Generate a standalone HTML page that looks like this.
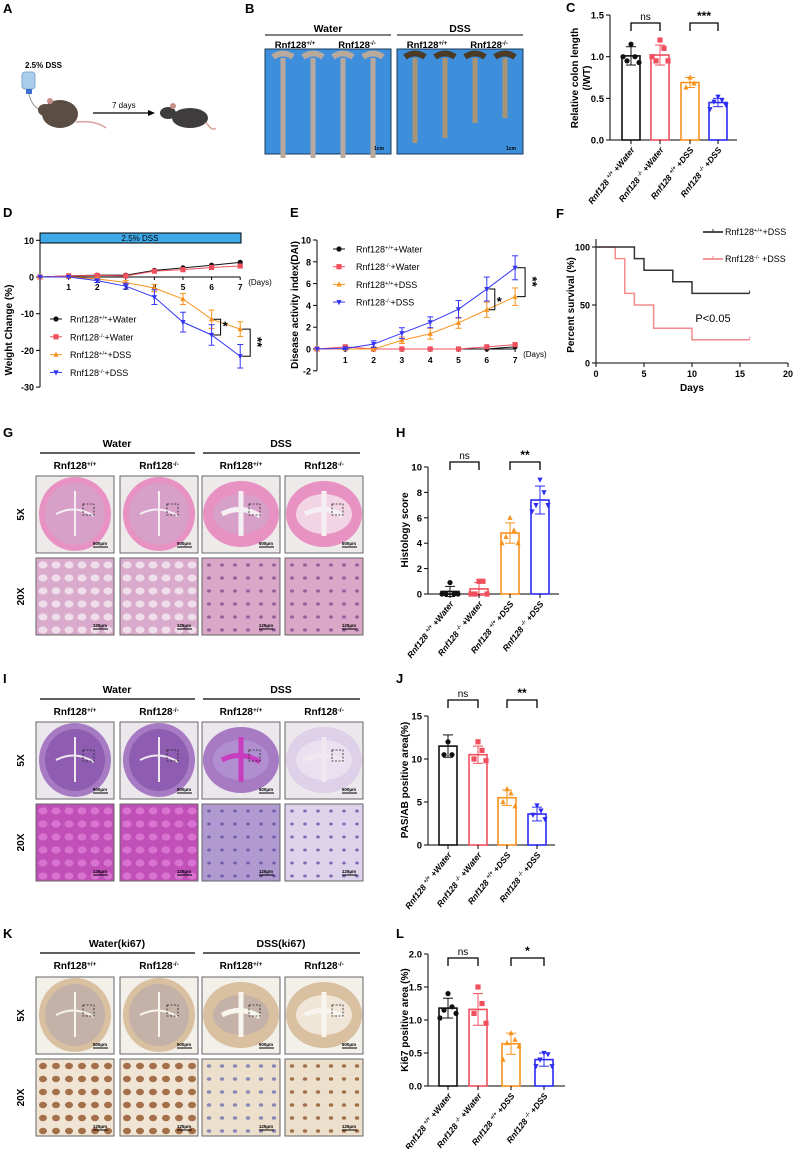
<!DOCTYPE html>
<html><head><meta charset="utf-8">
<style>
html,body{margin:0;padding:0;background:#fff;}
body{width:793px;height:1149px;overflow:hidden;font-family:"Liberation Sans",Arial,sans-serif;}
svg text{font-family:"Liberation Sans",Arial,sans-serif;}
</style></head>
<body>
<svg id="fig" width="793" height="1149" viewBox="0 0 793 1149" xmlns="http://www.w3.org/2000/svg"></svg>
<script>
// ---------- DATA ----------
const groups = ["+Water","+Water","+DSS","+DSS"];
const genos = ["+/+","-/-","+/+","-/-"];
const barColors = ["#111111","#f0505e","#f7931e","#2b2bf5"];

const cMeans = [1.01,1.02,0.69,0.45];
const cSds = [0.11,0.12,0.06,0.05];
const cDots = [[1.15,1.0,0.95,0.93,1.0],[1.2,1.1,0.95,0.95,1.0],[0.75,0.68,0.63],[0.52,0.48,0.46,0.42,0.37]];
const cTicks = [0,0.5,1.0,1.5];

const hMeans = [0.2,0.4,4.8,7.4];
const hSds = [0.4,0.5,0.8,1.1];
const hDots = [[0.9,0,0,0,0],[1,1,0,0,0],[6,5,4.5,4,4],[9,8,7,7,6.5]];
const hTicks = [0,2,4,6,8,10];

const jMeans = [11.5,10.5,5.5,3.6];
const jSds = [1.3,1.0,0.9,0.8];
const jDots = [[12,10.5,10.5],[12,11,10,9.8],[6.5,6,5,4.5],[4.6,4,3.5,3]];
const jTicks = [0,5,10,15];

const lMeans = [1.18,1.16,0.64,0.40];
const lSds = [0.15,0.24,0.16,0.10];
const lDots = [[1.4,1.2,1.15,1.1,1.03],[1.5,1.25,1.1,0.95],[0.8,0.7,0.65,0.6,0.4],[0.5,0.48,0.4,0.3,0.3]];
const lTicks = [0,0.5,1.0,1.5,2.0];

const days = [0,1,2,3,4,5,6,7];
const dWtWater = [0,0.3,0.5,0.5,1.8,2.5,3.2,4.0];
const dKoWater = [0,0.3,0.4,0.3,1.6,2.0,2.6,3.0];
const dWtDss = [0,0,-0.5,-1.5,-3,-6,-11.5,-14.2];
const dKoDss = [0,0,-1,-2.5,-5.5,-12.3,-15.8,-21.6];
const dWtDssErr = [0,0,0.3,0.5,1,1.5,2.5,2];
const dKoDssErr = [0,0,0.5,0.8,2,2.7,2.8,3.2];
const dTicks = [10,0,-10,-20,-30];

const eWtWater = [0,0,0,0,0,0,0,0.2];
const eKoWater = [0,0.2,0,0,0,0,0.2,0.4];
const eWtDss = [0,0,0,0.8,1.4,2.4,3.6,4.8];
const eKoDss = [0,0.05,0.45,1.45,2.45,3.65,5.5,7.45];
const eWtDssErr = [0,0,0,0.3,0.5,0.5,0.7,0.8];
const eKoDssErr = [0,0.1,0.3,0.5,0.5,0.8,1.1,1.1];
const eTicks = [-2,0,2,4,6,8,10];

const fWtTimes = [0,4,5,8,10,16];
const fWtSurv = [100,90,80,70,60,60];
const fKoTimes = [0,2,3,4,6,10,16];
const fKoSurv = [100,90,60,50,30,20,20];
const fXTicks = [0,5,10,15,20];
const fYTicks = [0,50,100];

// ---------- HELPERS ----------
const NS = "http://www.w3.org/2000/svg";
const svg = document.getElementById("fig");
function el(tag, attrs, name, parent){
  const e = document.createElementNS(NS, tag);
  for (const k in attrs) e.setAttribute(k, attrs[k]);
  
  
  (parent||svg).appendChild(e);
  return e;
}
function txt(x,y,s,size,name,extra){
  const a = Object.assign({x:x,y:y,'font-size':size,fill:'#000'}, extra||{});
  const t = el('text',a,name);
  t.textContent = s;
  return t;
}
function sup(t, base, supS, rest){
  t.textContent='';
  const a=document.createElementNS(NS,'tspan'); a.textContent=base; t.appendChild(a);
  const b=document.createElementNS(NS,'tspan'); b.setAttribute('baseline-shift','super'); b.setAttribute('font-size','0.65em'); b.textContent=supS; t.appendChild(b);
  if(rest){const c=document.createElementNS(NS,'tspan'); c.textContent=rest; t.appendChild(c);}
}
function line(x1,y1,x2,y2,name,stroke,w){
  return el('line',{x1:x1,y1:y1,x2:x2,y2:y2,stroke:stroke||'#000','stroke-width':w||1},name);
}
function marker(kind,x,y,color,name){
  const s=2.6;
  if(kind==='circle') return el('circle',{cx:x,cy:y,r:s,fill:color},name);
  if(kind==='square') return el('rect',{x:x-s,y:y-s,width:2*s,height:2*s,fill:color},name);
  if(kind==='tri') return el('polygon',{points:`${x},${y-s-0.5} ${x-s},${y+s-0.5} ${x+s},${y+s-0.5}`,fill:color},name);
  return el('polygon',{points:`${x},${y+s+0.5} ${x-s},${y-s+0.5} ${x+s},${y-s+0.5}`,fill:color},name);
}
function panelLabel(x,y,s){ txt(x,y,s,13,'panel-label-'+s.toLowerCase(),{'font-weight':'bold'}); }

// ---------- BAR CHART ----------
function barChart(p){
  const yv = v => p.y0 - v*p.ppu;
  const top = p.ticks[p.ticks.length-1];
  line(p.ax, p.y0, p.ax, yv(top), p.id+'-y-axis');
  line(p.ax, p.y0, p.xEnd, p.y0, p.id+'-x-axis');
  p.ticks.forEach(t=>{
    line(p.ax-4, yv(t), p.ax, yv(t), p.id+'-y-tick');
    txt(p.ax-6, yv(t)+3.5, p.fmt(t), 9.5, p.id+'-y-tick-label',{'text-anchor':'end','font-weight':'bold'});
  });
  p.means.forEach((m,i)=>{
    const cx=p.centers[i], col=barColors[i];
    el('rect',{x:cx-9,y:yv(m),width:18,height:p.y0-yv(m),fill:'#fff',stroke:col,'stroke-width':1.6},p.id+'-bar-'+(i+1));
    line(cx,yv(m+p.sds[i]),cx,yv(m-p.sds[i]),p.id+'-error-bar',col,1);
    line(cx-5,yv(m+p.sds[i]),cx+5,yv(m+p.sds[i]),p.id+'-error-cap',col,1);
    line(cx-5,yv(m-p.sds[i]),cx+5,yv(m-p.sds[i]),p.id+'-error-cap',col,1);
    line(cx,p.y0,cx,p.y0+4,p.id+'-x-tick');
    const kinds=['circle','square','tri','inv'];
    p.dots[i].forEach((d,j)=>{
      const off=(j%2===0?-1:1)*Math.ceil(j/2)*4;
      marker(kinds[i],cx+off,yv(d),col,p.id+'-data-point');
    });
    const t=txt(0,0,'',8.5,p.id+'-x-label',{'text-anchor':'end','font-weight':'bold','font-style':'italic',transform:`translate(${cx+4},${p.y0+10}) rotate(-52)`});
    sup(t,'Rnf128 ',genos[i],' '+groups[i]);
  });
  txt(0,0,p.ylabel[0],10,p.id+'-y-axis-title',{'text-anchor':'middle','font-weight':'bold',transform:`translate(${p.ylx},${p.ylcy}) rotate(-90)`});
  if(p.ylabel[1]) txt(0,0,p.ylabel[1],10,p.id+'-y-axis-title-2',{'text-anchor':'middle','font-weight':'bold',transform:`translate(${p.ylx+12},${p.ylcy}) rotate(-90)`});
  p.sig.forEach(s=>{
    const a=p.centers[s[0]], b=p.centers[s[1]];
    el('polyline',{points:`${a},${s[3]+8} ${a},${s[3]} ${b},${s[3]} ${b},${s[3]+8}`,fill:'none',stroke:'#000','stroke-width':1.3},p.id+'-sig-bracket');
    txt((a+b)/2,s[3]-3,s[2],s[2]==='ns'?10:12,p.id+'-sig-label',{'text-anchor':'middle','font-weight':s[2]==='ns'?'normal':'bold'});
  });
}

// ---------- PANEL A ----------
panelLabel(3,13,'A');
txt(25,68,'2.5% DSS',8,'dss-bottle-label',{'font-weight':'bold'});
el('rect',{x:22,y:72,width:13,height:17,rx:3,fill:'#a9cdea',stroke:'#7fa9cc'},'water-bottle');
el('rect',{x:26,y:89,width:6,height:5,fill:'#3f6fd1'},'bottle-cap');
el('path',{d:'M29 94 Q31 105 40 110',fill:'none',stroke:'#999','stroke-width':1},'bottle-tube');
el('ellipse',{cx:60,cy:114,rx:18,ry:14,fill:'#5b4d44'},'mouse-1-body');
el('ellipse',{cx:45,cy:110,rx:7,ry:6,fill:'#5b4d44'},'mouse-1-head');
el('circle',{cx:50,cy:101,r:3,fill:'#c9908a'},'mouse-1-ear');
el('path',{d:'M76 122 Q95 120 106 128',fill:'none',stroke:'#d9a29a','stroke-width':1.5},'mouse-1-tail');
line(93,113,150,113,'arrow-line','#000',1.3);
el('polygon',{points:'155,113 148,110 148,116',fill:'#000'},'arrow-head');
txt(112,108,'7 days',8,'duration-label');
el('ellipse',{cx:190,cy:118,rx:18,ry:10,fill:'#3e3c3c'},'mouse-2-body');
el('ellipse',{cx:168,cy:113,rx:8,ry:6,fill:'#3e3c3c'},'mouse-2-head');
el('circle',{cx:173,cy:106,r:3,fill:'#c9908a'},'mouse-2-ear');
el('path',{d:'M206 122 Q212 132 216 128',fill:'none',stroke:'#d9a29a','stroke-width':1.5},'mouse-2-tail');

// ---------- PANEL B ----------
panelLabel(245,13,'B');
function photoBox(x,label,dark,name){
  txt(x+63,32,label,10.5,name+'-title',{'text-anchor':'middle','font-weight':'bold'});
  line(x,35,x+126,35,name+'-title-line','#000',1);
  const t1=txt(x+30,48,'',9.5,name+'-wt-label',{'text-anchor':'middle','font-weight':'bold'}); sup(t1,'Rnf128','+/+');
  const t2=txt(x+92,48,'',9.5,name+'-ko-label',{'text-anchor':'middle','font-weight':'bold'}); sup(t2,'Rnf128','-/-');
  el('rect',{x:x,y:49,width:126,height:105,fill:'#3d8fdb',stroke:'#1a3a5a','stroke-width':1},name+'-photo');
  const lens = dark?[85,80,65,60]:[100,100,100,100];
  [0,1,2,3].forEach(i=>{
    const cx=x+18+i*30;
    el('path',{d:`M${cx-10} ${57} Q${cx} ${50} ${cx+10} ${57}`,fill:'none',stroke:dark?'#4a3a26':'#b9a89c','stroke-width':6},name+'-colon-top');
    el('rect',{x:cx-2.5,y:58,width:5,height:lens[i],fill:dark?'#a89578':'#b8a99e'},name+'-colon');
  });
  txt(x+114,150,'1cm',5,name+'-scale-label',{'text-anchor':'middle','font-weight':'bold'});
}
photoBox(265,'Water',false,'water');
photoBox(397,'DSS',true,'dss');

// ---------- PANEL C ----------
panelLabel(566,12,'C');
barChart({id:'c',ax:610,y0:140,ppu:83.3,xEnd:737,centers:[631,660,690,718],means:cMeans,sds:cSds,dots:cDots,ticks:cTicks,fmt:t=>t.toFixed(1),ylabel:['Relative colon length','(/WT)'],ylx:578,ylcy:78,sig:[[0,1,'ns',23],[2,3,'***',23]]});

// ---------- PANEL D ----------
panelLabel(3,217,'D');
(function(){
  const ax=40, y0=277, ppu=3.67, dx=28.6;
  const X=d=>ax+d*dx, Y=v=>y0-v*ppu;
  el('rect',{x:40,y:233,width:201,height:10,fill:'#3fa9e8',stroke:'#000','stroke-width':1},'dss-period-bar');
  txt(140,241,'2.5% DSS',8,'dss-period-label',{'text-anchor':'middle'});
  line(ax,Y(10),ax,Y(-30),'d-y-axis');
  line(ax,y0,X(7),y0,'d-x-axis');
  dTicks.forEach(t=>{line(ax-4,Y(t),ax,Y(t),'d-y-tick');txt(ax-6,Y(t)+3.5,String(t),9,'d-y-tick-label',{'text-anchor':'end','font-weight':'bold'});});
  days.slice(1).forEach(d=>{line(X(d),y0,X(d),y0+3,'d-x-tick');txt(X(d),y0+13,String(d),8.5,'d-x-tick-label',{'text-anchor':'middle','font-weight':'bold'});});
  txt(X(7)+8,y0+8,'(Days)',8,'d-x-axis-title');
  txt(0,0,'Weight Change (%)',10,'d-y-axis-title',{'text-anchor':'middle','font-weight':'bold',transform:`translate(12,330) rotate(-90)`});
  const series=[[dWtWater,null,'#111','circle'],[dKoWater,null,'#f0505e','square'],[dWtDss,dWtDssErr,'#f7931e','tri'],[dKoDss,dKoDssErr,'#3535f5','inv']];
  series.forEach((s,k)=>{
    el('polyline',{points:s[0].map((v,i)=>X(days[i])+','+Y(v)).join(' '),fill:'none',stroke:s[2],'stroke-width':1},'d-series-line-'+(k+1));
    s[0].forEach((v,i)=>{
      if(s[1]&&s[1][i]>0){line(X(days[i]),Y(v+s[1][i]),X(days[i]),Y(v-s[1][i]),'d-error-bar',s[2],1);line(X(days[i])-3,Y(v+s[1][i]),X(days[i])+3,Y(v+s[1][i]),'d-error-cap',s[2],1);line(X(days[i])-3,Y(v-s[1][i]),X(days[i])+3,Y(v-s[1][i]),'d-error-cap',s[2],1);}
      marker(s[3],X(days[i]),Y(v),s[2],'d-point');
    });
  });
  el('polyline',{points:`${X(6)+2},${Y(-11.5)} ${X(6)+9},${Y(-11.5)} ${X(6)+9},${Y(-15.8)} ${X(6)+2},${Y(-15.8)}`,fill:'none',stroke:'#000','stroke-width':1},'d-sig-bracket-day6');
  txt(X(6)+11,Y(-13.2)+5,'*',13,'d-sig-label-day6',{'font-weight':'bold'});
  el('polyline',{points:`${X(7)+2},${Y(-14.2)} ${X(7)+10},${Y(-14.2)} ${X(7)+10},${Y(-21.6)} ${X(7)+2},${Y(-21.6)}`,fill:'none',stroke:'#000','stroke-width':1},'d-sig-bracket-day7');
  txt(0,0,'**',13,'d-sig-label-day7',{'font-weight':'bold',transform:`translate(${X(7)+13},${Y(-18)-6}) rotate(90)`});
  const leg=[['+/+','+Water','#111','circle'],['-/-','+Water','#f0505e','square'],['+/+','+DSS','#f7931e','tri'],['-/-','+DSS','#3535f5','inv']];
  leg.forEach((l,i)=>{
    const y=319+i*17.8;
    line(50,y,62,y,'d-legend-line',l[2],1); marker(l[3],56,y,l[2],'d-legend-marker');
    const t=txt(70,y+3.5,'',9,'d-legend-entry'); sup(t,'Rnf128',l[0],l[1]);
  });
})();

// ---------- PANEL E ----------
panelLabel(290,217,'E');
(function(){
  const ax=317, y0=349, ppu=10.9, dx=28.3;
  const X=d=>ax+d*dx, Y=v=>y0-v*ppu;
  line(ax,Y(10),ax,Y(-2),'e-y-axis');
  line(ax,y0,X(7),y0,'e-x-axis');
  eTicks.forEach(t=>{line(ax-4,Y(t),ax,Y(t),'e-y-tick');txt(ax-6,Y(t)+3.5,String(t),9,'e-y-tick-label',{'text-anchor':'end','font-weight':'bold'});});
  days.slice(1).forEach(d=>{line(X(d),y0,X(d),y0+3,'e-x-tick');txt(X(d),y0+14,String(d),8.5,'e-x-tick-label',{'text-anchor':'middle','font-weight':'bold'});});
  txt(X(7)+8,y0+8,'(Days)',8,'e-x-axis-title');
  txt(0,0,'Disease activity index(DAI)',10,'e-y-axis-title',{'text-anchor':'middle','font-weight':'bold',transform:`translate(298,305) rotate(-90)`});
  const series=[[eWtWater,null,'#111','circle'],[eKoWater,null,'#f0505e','square'],[eWtDss,eWtDssErr,'#f7931e','tri'],[eKoDss,eKoDssErr,'#3535f5','inv']];
  series.forEach((s,k)=>{
    el('polyline',{points:s[0].map((v,i)=>X(days[i])+','+Y(v)).join(' '),fill:'none',stroke:s[2],'stroke-width':1},'e-series-line-'+(k+1));
    s[0].forEach((v,i)=>{
      if(s[1]&&s[1][i]>0){line(X(days[i]),Y(v+s[1][i]),X(days[i]),Y(v-s[1][i]),'e-error-bar',s[2],1);line(X(days[i])-3,Y(v+s[1][i]),X(days[i])+3,Y(v+s[1][i]),'e-error-cap',s[2],1);line(X(days[i])-3,Y(v-s[1][i]),X(days[i])+3,Y(v-s[1][i]),'e-error-cap',s[2],1);}
      marker(s[3],X(days[i]),Y(v),s[2],'e-point');
    });
  });
  el('polyline',{points:`${X(6)+2},${Y(5.5)} ${X(6)+8},${Y(5.5)} ${X(6)+8},${Y(3.6)} ${X(6)+2},${Y(3.6)}`,fill:'none',stroke:'#000','stroke-width':1},'e-sig-bracket-day6');
  txt(X(6)+10,Y(4.5)+6,'*',13,'e-sig-label-day6',{'font-weight':'bold'});
  el('polyline',{points:`${X(7)+2},${Y(7.45)} ${X(7)+10},${Y(7.45)} ${X(7)+10},${Y(4.8)} ${X(7)+2},${Y(4.8)}`,fill:'none',stroke:'#000','stroke-width':1},'e-sig-bracket-day7');
  txt(0,0,'**',13,'e-sig-label-day7',{'font-weight':'bold',transform:`translate(${X(7)+13},${Y(6.1)-6}) rotate(90)`});
  const leg=[['+/+','+Water','#111','circle'],['-/-','+Water','#f0505e','square'],['+/+','+DSS','#f7931e','tri'],['-/-','+DSS','#3535f5','inv']];
  leg.forEach((l,i)=>{
    const y=249+i*17.7;
    line(333,y,345,y,'e-legend-line',l[2],1); marker(l[3],339,y,l[2],'e-legend-marker');
    const t=txt(356,y+3.5,'',9,'e-legend-entry'); sup(t,'Rnf128',l[0],l[1]);
  });
})();

// ---------- PANEL F ----------
panelLabel(556,218,'F');
(function(){
  const ax=596, y0=363, ppx=9.6, ppy=1.16;
  const X=t=>ax+t*ppx, Y=v=>y0-v*ppy;
  line(ax,Y(100)-8,ax,y0,'f-y-axis');
  line(ax,y0,X(20),y0,'f-x-axis');
  fYTicks.forEach(t=>{line(ax-4,Y(t),ax,Y(t),'f-y-tick');txt(ax-6,Y(t)+3.5,String(t),9,'f-y-tick-label',{'text-anchor':'end','font-weight':'bold'});});
  fXTicks.forEach(t=>{line(X(t),y0,X(t),y0+4,'f-x-tick');txt(X(t),y0+14,String(t),9,'f-x-tick-label',{'text-anchor':'middle','font-weight':'bold'});});
  txt(X(10),y0+28,'Days',10,'f-x-axis-title',{'text-anchor':'middle','font-weight':'bold'});
  txt(0,0,'Percent survival (%)',10,'f-y-axis-title',{'text-anchor':'middle','font-weight':'bold',transform:`translate(574,305) rotate(-90)`});
  function steps(ts,vs){let d=`M${X(ts[0])} ${Y(vs[0])}`;for(let i=1;i<ts.length;i++){d+=` L${X(ts[i])} ${Y(vs[i-1])} L${X(ts[i])} ${Y(vs[i])}`;}return d;}
  el('path',{d:steps(fKoTimes,fKoSurv),fill:'none',stroke:'#f28a8e','stroke-width':1.5},'f-ko-survival-curve');
  el('path',{d:steps(fWtTimes,fWtSurv),fill:'none',stroke:'#333','stroke-width':1.5},'f-wt-survival-curve');
  line(X(16),Y(60)-3,X(16),Y(60),'f-censor-mark','#333',1);
  line(X(16),Y(20)-3,X(16),Y(20),'f-censor-mark','#f28a8e',1);
  line(703,232,723,232,'f-legend-line-wt','#333',1.8); line(713,229,713,232,'f-legend-tick','#333',1);
  const t1=txt(725,235,'',9,'f-legend-entry-wt'); sup(t1,'Rnf128','+/+','+DSS');
  line(703,259,723,259,'f-legend-line-ko','#f28a8e',1.8); line(713,256,713,259,'f-legend-tick','#f28a8e',1);
  const t2=txt(725,262,'',9,'f-legend-entry-ko'); sup(t2,'Rnf128','-/-',' +DSS');
  txt(713,322,'P<0.05',11,'f-p-value',{'text-anchor':'middle'});
})();

// ---------- HISTOLOGY PANELS ----------
const cols=[36,120,202,285];
function histoPanel(id,labelY,titles,top5,top20,style){
  const Wd=78,H=77;
  txt(117,labelY+15,titles[0],10.5,id+'-water-title',{'text-anchor':'middle','font-weight':'bold'});
  txt(281,labelY+15,titles[1],10.5,id+'-dss-title',{'text-anchor':'middle','font-weight':'bold'});
  line(40,labelY+21,195,labelY+21,id+'-water-line','#000',1.2);
  line(203,labelY+21,360,labelY+21,id+'-dss-line','#000',1.2);
  ['+/+','-/-','+/+','-/-'].forEach((g,i)=>{const t=txt(cols[i]+39,labelY+37,'',10,id+'-genotype-label',{'text-anchor':'middle','font-weight':'bold'});sup(t,'Rnf128',g);});
  txt(0,0,'5X',10,id+'-5x-label',{'text-anchor':'middle','font-weight':'bold',transform:`translate(24,${top5+H/2}) rotate(-90)`});
  txt(0,0,'20X',10,id+'-20x-label',{'text-anchor':'middle','font-weight':'bold',transform:`translate(24,${top20+H/2}) rotate(-90)`});
  cols.forEach((x,i)=>{
    const s=style(i);
    el('rect',{x:x,y:top5,width:Wd,height:H,fill:s.bg,stroke:'#666','stroke-width':1},id+'-5x-image-'+(i+1));
    el('ellipse',{cx:x+39,cy:top5+38,rx:i>=2?38:36,ry:i>=2?33:37,fill:s.outer},id+'-5x-tissue');
    el('ellipse',{cx:x+39,cy:top5+38,rx:i>=2?28:30,ry:i>=2?20:31,fill:s.inner},id+'-5x-mucosa');
    el('path',{d:`M${x+20} ${top5+38} Q${x+39} ${top5+28} ${x+58} ${top5+40} M${x+39} ${top5+15} L${x+39} ${top5+60}`,fill:'none',stroke:s.lumen,'stroke-width':i>=2?5:2},id+'-5x-lumen');
    el('rect',{x:x+47,y:top5+28,width:11,height:11,fill:'none',stroke:'#222','stroke-dasharray':'2,1.5','stroke-width':0.8},id+'-5x-zoom-box');
    txt(x+64,top5+69,'500μm',4.5,id+'-5x-scale-label',{'text-anchor':'middle','font-weight':'bold'});
    line(x+57,top5+71,x+72,top5+71,id+'-5x-scale-bar','#000',1);
    el('rect',{x:x,y:top20,width:Wd,height:H,fill:s.t20,stroke:'#666','stroke-width':1},id+'-20x-image-'+(i+1));
    for(let r=0;r<6;r++)for(let c=0;c<6;c++){
      el('ellipse',{cx:x+7+c*13,cy:top20+7+r*13,rx:s.cellR,ry:s.cellR*0.8,fill:s.cell,opacity:0.75},id+'-20x-cell');
    }
    txt(x+64,top20+69,'125μm',4.5,id+'-20x-scale-label',{'text-anchor':'middle','font-weight':'bold'});
    line(x+57,top20+71,x+72,top20+71,id+'-20x-scale-bar','#000',1);
  });
}
panelLabel(3,437,'G');
histoPanel('g',432,['Water','DSS'],476,558,i=>({bg:'#eeeaea',outer:'#e792c3',inner:i===3?'#f3d4e4':'#d7a0c8',lumen:'#f5eef2',t20:i<2?'#d9aacc':'#d9a8c8',cell:i<2?'#f6eef4':'#7a4a8a',cellR:i<2?4.5:2}));
panelLabel(3,683,'I');
histoPanel('i',678,['Water','DSS'],722,804,i=>({bg:'#ebe7ec',outer:i===3?'#ddd0e8':'#a77bc3',inner:i===3?'#e9e1ef':(i===2?'#b08ed0':'#8e5cb0'),lumen:i===2?'#c83cc0':'#f0e8f0',t20:i<2?'#c04fb8':(i===2?'#b09ad0':'#ddd3ea'),cell:i<2?'#e080d8':'#5a4aa0',cellR:i<2?4.5:1.8}));
panelLabel(3,938,'K');
histoPanel('k',932,['Water(ki67)','DSS(ki67)'],977,1059,i=>({bg:'#f3efe9',outer:'#d8c0a0',inner:i===3?'#efe6d8':'#c4b2a8',lumen:'#f8f4ee',t20:i<2?'#f0e4d4':'#ece0cc',cell:i===2?'#6a6ab0':'#8a4a1c',cellR:i<2?4:2.2}));

// ---------- PANELS H, J, L ----------
panelLabel(396,437,'H');
barChart({id:'h',ax:428,y0:594,ppu:12.7,xEnd:559,centers:[450,479,510,540],means:hMeans,sds:hSds,dots:hDots,ticks:hTicks,fmt:t=>String(t),ylabel:['Histology score'],ylx:408,ylcy:530,sig:[[0,1,'ns',462],[2,3,'**',462]]});
panelLabel(396,683,'J');
barChart({id:'j',ax:428,y0:845,ppu:8.6,xEnd:555,centers:[448,478,507,537],means:jMeans,sds:jSds,dots:jDots,ticks:jTicks,fmt:t=>String(t),ylabel:['PAS/AB positive area(%)'],ylx:408,ylcy:780,sig:[[0,1,'ns',700],[2,3,'**',700]]});
panelLabel(396,938,'L');
barChart({id:'l',ax:428,y0:1086,ppu:66,xEnd:565,centers:[448,478,511,544],means:lMeans,sds:lSds,dots:lDots,ticks:lTicks,fmt:t=>t.toFixed(1),ylabel:['Ki67 positive area (%)'],ylx:408,ylcy:1020,sig:[[0,1,'ns',958],[2,3,'*',958]]});
</script>
</body></html>
